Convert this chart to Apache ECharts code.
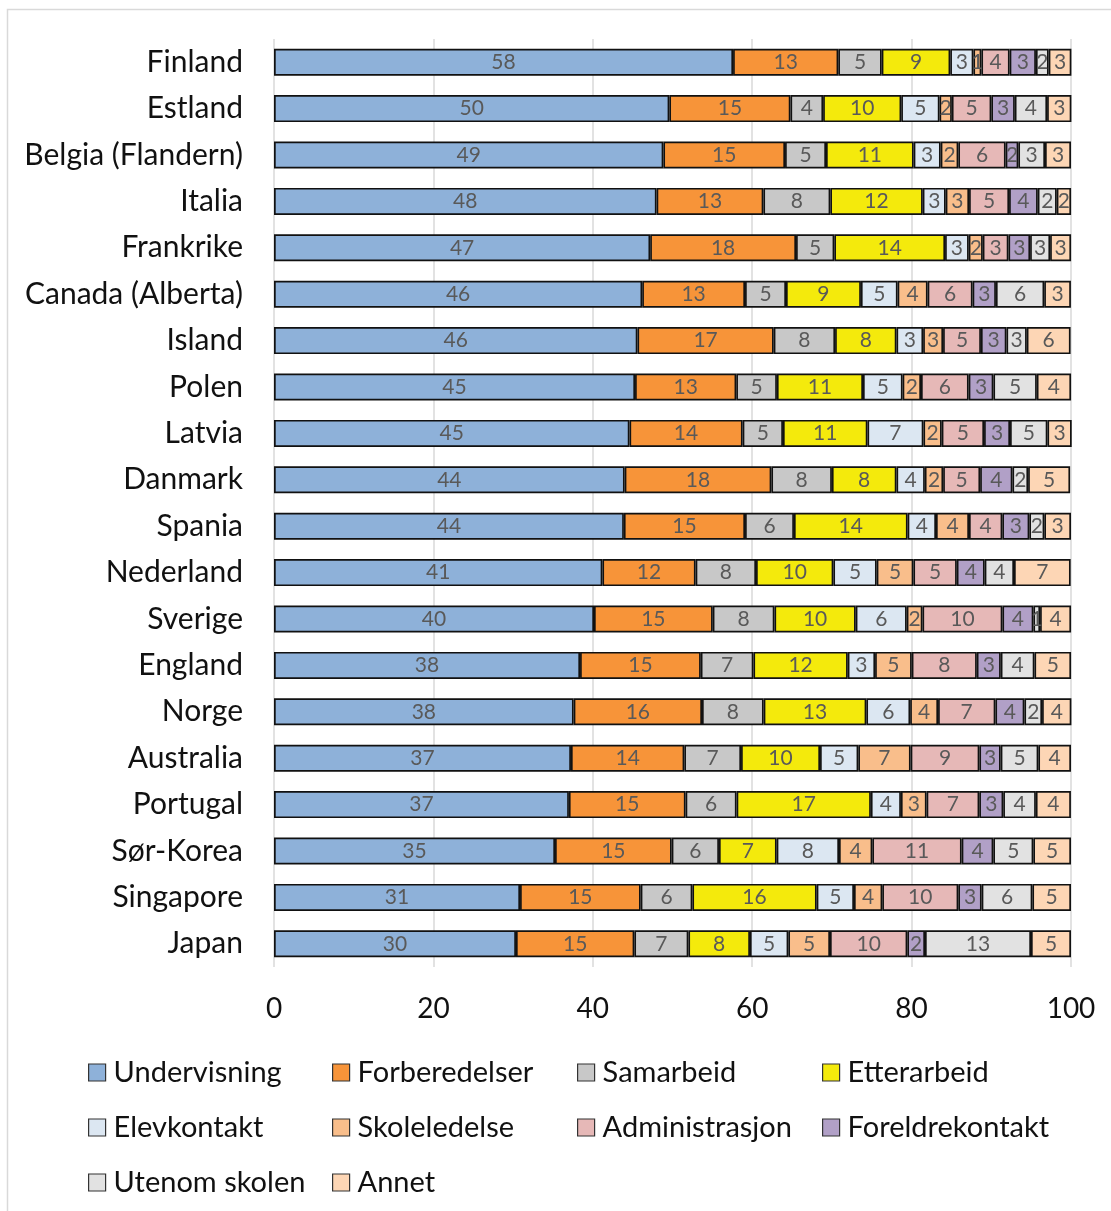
<!DOCTYPE html>
<html>
<head>
<meta charset="utf-8">
<script src="https://cdn.jsdelivr.net/npm/echarts@6/dist/echarts.min.js"></script>
<style>
html,body{margin:0;padding:0;background:#fff;}
#chart{width:1111px;height:1211px;}
</style>
</head>
<body>
<div id="chart"></div>
<script>
const countries = ["Finland","Estland","Belgia (Flandern)","Italia","Frankrike","Canada (Alberta)","Island","Polen","Latvia","Danmark","Spania","Nederland","Sverige","England","Norge","Australia","Portugal","Sør-Korea","Singapore","Japan"];
const seriesNames = ["Undervisning","Forberedelser","Samarbeid","Etterarbeid","Elevkontakt","Skoleledelse","Administrasjon","Foreldrekontakt","Utenom skolen","Annet"];
const xTicks = [0,20,40,60,80,100];

const undervisning   = [57.6,49.6,48.85,48.0,47.2,46.2,45.6,45.3,44.6,44.0,43.9,41.2,40.15,38.4,37.6,37.26,37.0,35.26,30.87,30.36];
const forberedelser  = [13.2,15.2,15.27,13.4,18.3,12.9,17.1,12.7,14.2,18.4,15.2,11.7,14.9,15.15,16.1,14.22,14.64,14.64,15.14,14.85];
const samarbeid      = [5.45,4.1,5.14,8.4,4.8,5.14,7.7,5.1,5.06,7.6,6.14,7.58,7.74,6.6,7.74,7.12,6.4,5.93,6.48,6.78];
const etterarbeid    = [8.6,9.8,11.0,11.6,13.9,9.4,7.7,10.8,10.6,8.1,14.26,9.7,10.2,11.84,12.88,9.91,16.85,7.24,15.6,7.73];
const elevkontakt    = [2.9,4.8,3.39,2.88,2.97,4.6,3.35,4.97,7.02,3.56,3.56,5.44,6.4,3.43,5.5,4.8,3.77,7.82,4.68,4.81];
const skoleledelse   = [1.0,1.55,2.21,2.93,1.76,3.77,2.5,2.31,2.3,2.3,4.14,4.6,1.97,4.6,3.5,6.57,3.22,4.18,3.55,5.23];
const administrasjon = [3.55,4.95,5.94,5.02,3.22,5.64,4.75,5.98,5.31,4.64,4.18,5.45,10.03,8.16,7.19,8.62,6.61,11.21,9.54,9.7];
const foreldrekontakt= [3.3,2.95,1.59,3.6,2.72,2.93,3.2,3.1,3.26,4.05,3.39,3.5,3.89,3.01,3.64,2.68,3.01,3.97,2.93,2.22];
const utenomSkolen   = [1.6,4.05,3.35,2.38,2.51,6.06,2.55,5.45,4.69,1.97,1.88,3.68,0.84,4.22,2.22,4.72,4.09,5.02,6.36,13.3];
const annet          = [2.85,3.05,3.26,1.8,2.63,3.35,5.5,4.3,3.05,5.27,3.35,7.11,3.89,4.6,3.68,4.1,4.4,4.73,4.85,5.02];

const values = [undervisning,forberedelser,samarbeid,etterarbeid,elevkontakt,skoleledelse,administrasjon,foreldrekontakt,utenomSkolen,annet];
const colors = ["#8EB1D9","#F79439","#C8C8C8","#F4EA0C","#DCE7F2","#F9BE8B","#E6B8B7","#B1A0C7","#E2E2E2","#FDD6B5"];

const FONT = "Lato";
const chart = echarts.init(document.getElementById('chart'));

const series = seriesNames.map((n,i)=>({
  name:n, type:'bar', stack:'total', data: values[i], barWidth: 27,
  itemStyle:{color:colors[i], borderColor:'#111', borderWidth:1.7},
  label:{show:true, position:'inside', formatter:p=>Math.round(p.value), color:'#595959', fontSize:21, fontFamily:FONT},
  emphasis:{disabled:true}
}));

const legPos = [[88,1058],[332,1058],[577,1058],[822,1058],[88,1113],[332,1113],[577,1113],[822,1113],[88,1168],[332,1168]];
const legends = seriesNames.map((n,i)=>({
  data:[n], left:legPos[i][0], top:legPos[i][1], itemWidth:17, itemHeight:17, itemGap:0, padding:0,
  icon:'rect', selectedMode:false,
  itemStyle:{borderColor:'#333', borderWidth:1.2},
  textStyle:{fontSize:29, fontFamily:FONT, color:'#111', padding:[0,0,0,3]}
}));

chart.setOption({
  animation:false,
  backgroundColor:'#fff',
  graphic:[{type:'rect', shape:{x:7.5,y:9.5,width:1110,height:1220}, style:{fill:'none', stroke:'#d9d9d9', lineWidth:1.5}, silent:true}],
  grid:{left:274, right:40, top:39, bottom:1211-967, containLabel:false},
  xAxis:{type:'value', min:xTicks[0], max:xTicks[xTicks.length-1], interval:xTicks[1]-xTicks[0],
    axisLine:{show:false}, axisTick:{show:false},
    splitLine:{show:true, lineStyle:{color:'#d9d9d9', width:1.5}},
    axisLabel:{fontSize:28, fontFamily:FONT, color:'#111', margin:28}},
  yAxis:{type:'category', data:countries, inverse:true,
    axisLine:{show:false}, axisTick:{show:false},
    axisLabel:{fontSize:30, fontFamily:FONT, color:'#111', margin:31}},
  legend:legends,
  series:series
});
</script>
</body>
</html>
